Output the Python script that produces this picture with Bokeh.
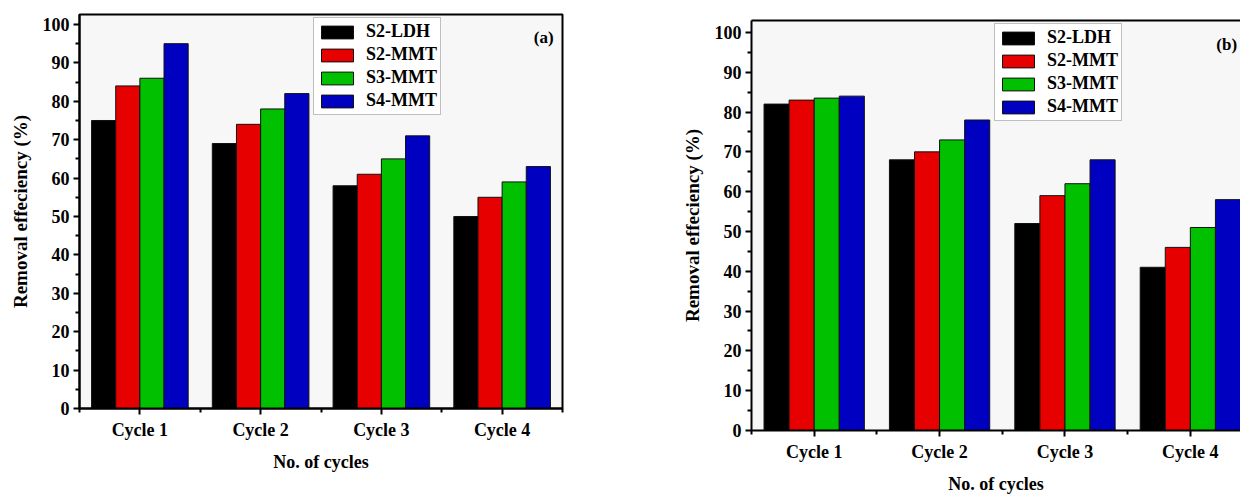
from bokeh.plotting import figure
from bokeh.layouts import row, column
from bokeh.models import (ColumnDataSource, FixedTicker, Range1d, Legend, LegendItem,
                          Label, LinearAxis)
from bokeh.transform import dodge
from bokeh.embed import file_html
from bokeh.resources import INLINE

# ---------------- data ----------------
cycles = ["Cycle 1", "Cycle 2", "Cycle 3", "Cycle 4"]
series_names = ["S2-LDH", "S2-MMT", "S3-MMT", "S4-MMT"]

# panel (a)
a_s2_ldh = [75, 69, 58, 50]
a_s2_mmt = [84, 74, 61, 55]
a_s3_mmt = [86, 78, 65, 59]
a_s4_mmt = [95, 82, 71, 63]

# panel (b)
b_s2_ldh = [82, 68, 52, 41]
b_s2_mmt = [83, 70, 59, 46]
b_s3_mmt = [83.5, 73, 62, 51]
b_s4_mmt = [84, 78, 68, 58]

y_ticks = list(range(0, 101, 10))
y_minor = list(range(5, 100, 10))

colors = ["#000000", "#E60000", "#00C000", "#0000C0"]
FONT = "Liberation Serif"


def make_panel(vals, tag, width, height, mb_left, mb_right, mb_top, mb_bottom,
               x_end, y_end, legend_loc, tag_xy, outline):
    pos = list(range(1, len(cycles) + 1))
    data = {"x": pos}
    for name, v in zip(series_names, vals):
        data[name] = v
    src = ColumnDataSource(data)

    p = figure(width=width, height=height, output_backend="svg", toolbar_location=None,
               x_range=Range1d(0.5, x_end), y_range=Range1d(0, y_end),
               min_border_left=mb_left, min_border_right=mb_right,
               min_border_top=mb_top, min_border_bottom=mb_bottom)
    p.background_fill_color = "#F7F7F7"
    p.border_fill_color = "white"
    p.grid.visible = False
    xa = p.below[0]
    ya = p.left[0]
    if outline:
        p.outline_line_color = "black"
        p.outline_line_width = 2
    else:
        p.outline_line_color = None
        top_axis = LinearAxis(ticker=FixedTicker(ticks=[]), major_label_text_font_size="0px",
                              major_tick_line_color=None, minor_tick_line_color=None,
                              axis_line_width=2, axis_line_color="black")
        p.add_layout(top_axis, "above")

    offsets = [-0.3, -0.1, 0.1, 0.3]
    items = []
    for name, off, col in zip(series_names, offsets, colors):
        r = p.vbar(x=dodge("x", off), top=name, width=0.2, bottom=0, source=src,
                   fill_color=col, line_color="#111111", line_width=1)
        items.append(LegendItem(label=name, renderers=[r]))

    legend = Legend(items=items, location=legend_loc)
    legend.label_text_font = FONT
    legend.label_text_font_style = "bold"
    legend.label_text_font_size = "18px"
    legend.label_text_color = "black"
    legend.glyph_width = 40
    legend.glyph_height = 16
    legend.label_height = 16
    legend.label_standoff = 9
    legend.spacing = 2
    legend.padding = 3
    legend.margin = 0
    legend.border_line_color = "#808080"
    legend.border_line_width = 1
    legend.background_fill_color = "white"
    legend.background_fill_alpha = 1
    p.add_layout(legend)

    # axes
    xa.ticker = FixedTicker(ticks=pos, minor_ticks=[0.5 + i for i in range(len(cycles) + 1)])
    xa.major_label_overrides = {k: c for k, c in zip(pos, cycles)}
    ya.ticker = FixedTicker(ticks=y_ticks, minor_ticks=y_minor)
    for ax in (xa, ya):
        ax.axis_line_width = 2
        ax.axis_line_color = "black"
        ax.major_tick_line_width = 2
        ax.minor_tick_line_width = 2
        ax.major_tick_line_color = "black"
        ax.minor_tick_line_color = "black"
        ax.major_tick_in = 0
        ax.major_tick_out = 6
        ax.minor_tick_in = 0
        ax.minor_tick_out = 4
        ax.major_label_text_font = FONT
        ax.major_label_text_font_style = "bold"
        ax.major_label_text_font_size = "18px"
        ax.major_label_text_color = "black"
        ax.axis_label_text_font = FONT
        ax.axis_label_text_font_style = "bold"
        ax.axis_label_text_font_size = "18px"
        ax.axis_label_text_color = "black"
    xa.axis_label = "No. of cycles"
    xa.major_label_standoff = 5
    xa.axis_label_standoff = 9
    ya.axis_label = "Removal effeciency (%)"
    ya.axis_label_text_font_size = "19px"
    ya.major_label_standoff = 4
    ya.axis_label_standoff = 9

    p.add_layout(Label(x=tag_xy[0], y=tag_xy[1], text=tag, text_font=FONT,
                       text_font_style="bold", text_font_size="17px",
                       text_align="center", text_baseline="middle", text_color="black"))
    return p


pa = make_panel([a_s2_ldh, a_s2_mmt, a_s3_mmt, a_s4_mmt], "(a)",
                width=670, height=496, mb_left=79, mb_right=108, mb_top=14, mb_bottom=88,
                x_end=4.5, y_end=102.6, legend_loc=(234, 293), tag_xy=(4.344, 96.6),
                outline=True)

pb = make_panel([b_s2_ldh, b_s2_mmt, b_s3_mmt, b_s4_mmt], "(b)",
                width=570, height=496, mb_left=81, mb_right=0, mb_top=20, mb_bottom=61,
                x_end=4.40, y_end=103, legend_loc=(243, 309), tag_xy=(4.29, 97.0),
                outline=False)

layout = row(column(pa), column(pb))
open("out.html", "w").write(file_html(layout, INLINE))
